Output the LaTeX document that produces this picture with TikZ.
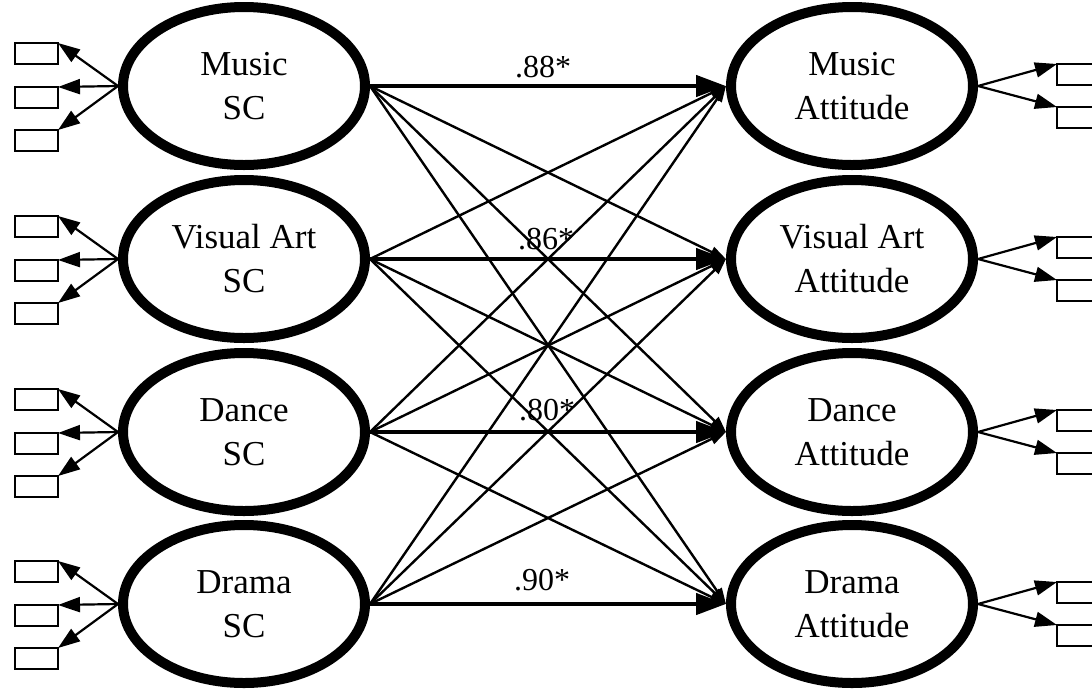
\documentclass[tikz,border=0pt]{standalone}
\usepackage{fontspec}
\setmainfont{Liberation Serif}
\usetikzlibrary{shapes.geometric,arrows.meta}
\begin{document}
\begin{tikzpicture}[x=1pt,y=-1pt,
  lat/.style={ellipse,draw,line width=10pt,minimum width=242pt,minimum height=158pt,inner sep=0pt,align=center,font=\fontsize{35}{44}\selectfont},
  ind/.style={draw,line width=1.8pt,minimum width=43pt,minimum height=21pt,inner sep=0pt,outer sep=0pt},
  load/.style={line width=2.2pt,-{Triangle[length=22pt,width=15pt]}},
  cross/.style={line width=2.4pt,-{Triangle[length=16pt,width=11pt]}},
  mainpath/.style={line width=4.5pt,-{Triangle[length=30pt,width=21pt]}},
  coef/.style={anchor=base,inner sep=0pt,font=\fontsize{32}{38}\selectfont}]
\useasboundingbox (0,0) rectangle (1092,694);

% latent SC factors
\node[lat] (s1) at (244,86) {Music\\SC};
\node[lat] (s2) at (244,259) {Visual Art\\SC};
\node[lat] (s3) at (244,432) {Dance\\SC};
\node[lat] (s4) at (244,604) {Drama\\SC};

% latent attitude factors
\node[lat] (a1) at (852,86) {Music\\Attitude};
\node[lat] (a2) at (852,259) {Visual Art\\Attitude};
\node[lat] (a3) at (852,432) {Dance\\Attitude};
\node[lat] (a4) at (852,604) {Drama\\Attitude};

% left indicators
\foreach \i/\y in {1/86,2/259,3/432,4/604}{
  \node[ind,anchor=north east] (l\i a) at (58,\y-43) {};
  \node[ind,anchor=north east] (l\i b) at (58,\y+1) {};
  \node[ind,anchor=north east] (l\i c) at (58,\y+44) {};
  \draw[load] (s\i.west) -- (l\i a.north east);
  \draw[load] (s\i.west) -- (l\i b.north east);
  \draw[load] (s\i.west) -- (l\i c.north east);
}

% right indicators
\foreach \i/\y in {1/86,2/259,3/432,4/604}{
  \node[ind,anchor=north west] (r\i a) at (1057,\y-22) {};
  \node[ind,anchor=north west] (r\i b) at (1057,\y+21) {};
  \draw[load] (a\i.east) -- (r\i a.north west);
  \draw[load] (a\i.east) -- (r\i b.north west);
}

% cross paths
\foreach \i in {1,...,4}{
  \foreach \j in {1,...,4}{
    \ifnum\i=\j\else
      \draw[cross] (s\i.east) -- (a\j.west);
    \fi
  }
}

% main paths
\foreach \i in {1,...,4}{
  \draw[mainpath] (s\i.east) -- (a\i.west);
}

% coefficients
\node[coef] (c1) at (543,77) {.88*};
\node[coef] (c2) at (546,249) {.86*};
\node[coef] (c3) at (547,420) {.80*};
\node[coef] (c4) at (542,590) {.90*};
\end{tikzpicture}
\end{document}
